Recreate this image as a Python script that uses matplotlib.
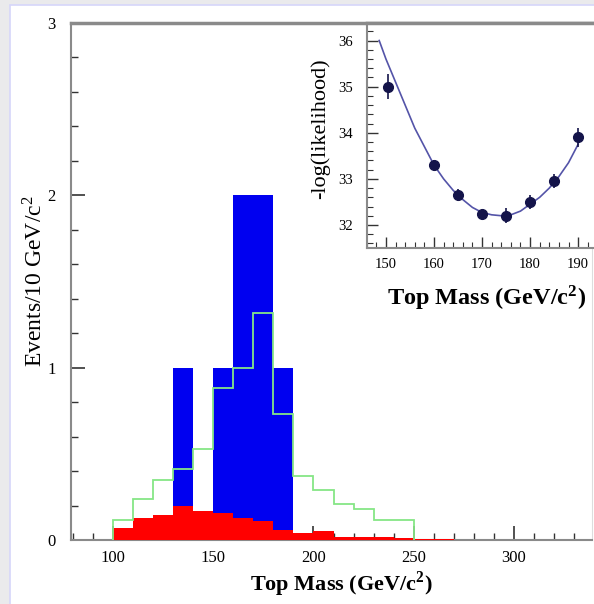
import numpy as np
import matplotlib
matplotlib.use("Agg")
import matplotlib.pyplot as plt
from matplotlib.patches import Rectangle
from matplotlib.ticker import MultipleLocator

plt.rcParams["font.family"] = ["Liberation Serif", "DejaVu Serif"]
plt.rcParams["mathtext.fontset"] = "stix"

# bins de 10 GeV/c^2
bordes = np.arange(80, 290, 10)
fondo = [0, 0, 0.07, 0.13, 0.145, 0.2, 0.17, 0.155, 0.13, 0.11, 0.058, 0.04,
         0.05, 0.02, 0.018, 0.015, 0.012, 0.008, 0.003, 0.002]
datos_x = [130, 150, 160, 170, 180]
datos_n = [1, 1, 2, 2, 1]
bordes_mc = np.arange(100, 260, 10)
esperado = [0.116, 0.24, 0.35, 0.41, 0.53, 0.88, 1.0, 1.32, 0.73, 0.37,
            0.29, 0.21, 0.18, 0.116, 0.116]

# inset: -log(likelihood)
masa = [150.5, 160, 165, 170, 175, 180, 185, 190]
nll = [35.0, 33.3, 32.65, 32.23, 32.2, 32.5, 32.95, 33.9]
nll_err = [0.27, 0.1, 0.12, 0.08, 0.16, 0.15, 0.15, 0.2]
ajuste_x = [148.6, 150, 152, 154, 156, 158, 160, 162, 164, 166, 168, 170,
            172, 174, 176, 178, 180, 182, 184, 186, 188, 190]
ajuste_y = [36.0, 35.6, 35.1, 34.6, 34.1, 33.7, 33.3, 33.0, 32.75, 32.55,
            32.38, 32.27, 32.22, 32.2, 32.22, 32.3, 32.45, 32.6, 32.8,
            33.05, 33.35, 33.75]

fig = plt.figure(figsize=(5.94, 6.04), dpi=100)
fig.patch.set_facecolor("#eaeaec")
fig.patches.append(Rectangle((10 / 594, -0.01), 1.0, 1 - 5 / 604 + 0.01,
                             transform=fig.transFigure, facecolor="white",
                             edgecolor="#d6d6fa", linewidth=1.2, zorder=-10))

gris = "#8a8a8a"
etiqueta_x = r"Top Mass (GeV/c$^{\mathregular{2}}$)"

ax = fig.add_axes([71 / 594, 1 - 540 / 604, 521 / 594, 517 / 604])
ax.bar(datos_x, datos_n, width=10, align="edge", color="#0000f0",
       linewidth=0, zorder=2)
ax.stairs(fondo, bordes, fill=True, color="#ff0000", zorder=3)
ax.stairs(esperado, bordes_mc, color="#86e686", linewidth=1.3, zorder=4)
ax.set_xlim(79, 339)
ax.set_ylim(0, 3)
ax.xaxis.set_major_locator(MultipleLocator(50))
ax.xaxis.set_minor_locator(MultipleLocator(10))
ax.yaxis.set_major_locator(MultipleLocator(1))
ax.yaxis.set_minor_locator(MultipleLocator(0.2))
ax.set_xticks([100, 150, 200, 250, 300])
ax.tick_params(which="both", direction="in", color="#333333", labelsize=12,
               top=False, right=False)
ax.tick_params(which="major", length=10, width=1.2)
ax.tick_params(which="minor", length=5, width=1)
ax.tick_params(axis="y", pad=11)
ax.tick_params(axis="x", pad=7)
for lado in ["left", "top", "bottom"]:
    ax.spines[lado].set_color(gris)
    ax.spines[lado].set_linewidth(1.5)
ax.spines["top"].set_linewidth(2.5)
ax.spines["right"].set_color("#dddddd")
ax.spines["right"].set_linewidth(0.8)
ax.set_xlabel(etiqueta_x, fontsize=16, fontweight="bold")
ax.xaxis.set_label_coords(0.52, -0.058)
ax.set_ylabel(r"Events/10 GeV/c$^{\mathregular{2}}$", fontsize=17)
ax.yaxis.set_label_coords(-0.046, 0.5)

ins = fig.add_axes([366.7 / 594, 1 - 248 / 604, 227.3 / 594, 225 / 604])
ins.set_facecolor("white")
ins.plot(ajuste_x, ajuste_y, color="#5454a8", linewidth=1.2, zorder=2)
ins.errorbar(masa, nll, yerr=nll_err, fmt="o", color="#14144a", markersize=7,
             elinewidth=1.2, capsize=0, zorder=3)
ins.set_xlim(146, 193.3)
ins.set_ylim(31.5, 36.38)
ins.xaxis.set_major_locator(MultipleLocator(10))
ins.xaxis.set_minor_locator(MultipleLocator(2))
ins.yaxis.set_major_locator(MultipleLocator(1))
ins.yaxis.set_minor_locator(MultipleLocator(0.2))
ins.tick_params(which="both", direction="in", color="#333333", labelsize=10.5,
                top=False, right=False)
ins.tick_params(which="major", length=8, width=1)
ins.tick_params(which="minor", length=4, width=0.8)
ins.tick_params(axis="y", pad=10)
ins.tick_params(axis="x", pad=7)
for lado in ["left", "top", "bottom"]:
    ins.spines[lado].set_color(gris)
    ins.spines[lado].set_linewidth(1.5)
ins.spines["top"].set_linewidth(2.5)
ins.spines["right"].set_visible(False)
ins.set_xlabel(etiqueta_x, fontsize=17.5, fontweight="bold")
ins.xaxis.set_label_coords(0.53, -0.16)
ins.set_ylabel("-log(likelihood)", fontsize=16)
ins.yaxis.set_label_coords(-0.16, 0.53)

fig.savefig("out.png", dpi=100, facecolor=fig.get_facecolor())
